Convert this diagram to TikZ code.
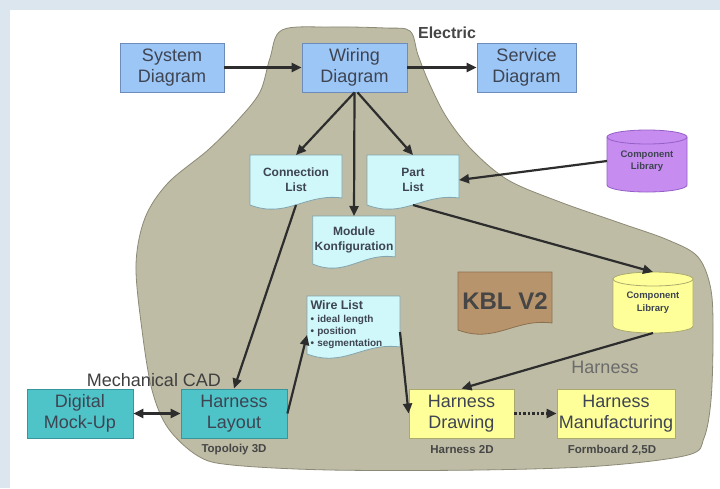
\documentclass[tikz,border=0pt]{standalone}
\usepackage{fontspec}
\setmainfont{Liberation Sans}
\usepackage{tikz}
\usetikzlibrary{arrows.meta,positioning,calc,backgrounds}
\definecolor{framebg}{RGB}{220,230,238}
\definecolor{blobfill}{RGB}{190,188,165}
\definecolor{blobedge}{RGB}{140,138,118}
\definecolor{bluebox}{RGB}{156,198,245}
\definecolor{blueedge}{RGB}{110,140,185}
\definecolor{tealbox}{RGB}{78,196,200}
\definecolor{tealedge}{RGB}{55,150,155}
\definecolor{yelbox}{RGB}{255,255,153}
\definecolor{yeledge}{RGB}{170,170,110}
\definecolor{docfill}{RGB}{208,248,250}
\definecolor{docedge}{RGB}{130,165,175}
\definecolor{kblfill}{RGB}{184,148,108}
\definecolor{kbledge}{RGB}{140,112,80}
\definecolor{purpfill}{RGB}{198,140,240}
\definecolor{purpedge}{RGB}{150,95,200}
\definecolor{boxtext}{RGB}{62,68,82}
\definecolor{arrowgray}{RGB}{45,45,45}
\definecolor{labelgray}{RGB}{70,70,70}

\begin{document}
\begin{tikzpicture}[x=1pt, y=1pt,
  >={Triangle[length=10pt,width=9pt]},
  box/.style={rectangle, draw=#1, line width=0.8, minimum height=49, inner sep=2,
    text=boxtext, align=center, font=\fontsize{18}{21}\selectfont},
  doc/.style={rectangle, outer sep=0, inner sep=2, text=boxtext, align=center,
    font=\bfseries\fontsize{12}{15}\selectfont},
  cyl/.style={rectangle, outer sep=0, minimum width=80, inner sep=1, text=boxtext,
    align=center, font=\bfseries\fontsize{9.5}{12.5}\selectfont},
  flow/.style={->, line width=2.2, draw=arrowgray},
  small/.style={text=labelgray, font=\bfseries\fontsize{11.5}{13}\selectfont}]
\useasboundingbox (0,0) rectangle (720,-488);
% frame and the electric area
\begin{scope}[on background layer]
\fill[framebg] (0,0) rectangle (720,-488);
\fill[white] (10,-10) rectangle (720,-488);
\draw[blobedge, fill=blobfill, line width=0.8] plot[smooth cycle, tension=0.55] coordinates {
  (282,-30) (330,-27) (385,-28) (410,-31) (418,-55) (430,-85) (447,-118) (472,-150)
  (508,-180) (560,-202) (620,-223) (668,-240) (698,-257) (711,-290) (713,-340)
  (711,-400) (704,-438) (688,-455) (600,-466) (480,-470) (330,-470) (232,-465)
  (198,-456) (168,-428) (152,-390) (142,-330) (136,-265) (145,-218) (168,-183)
  (208,-150) (238,-120) (260,-92) (270,-58)};
\end{scope}
% top row
\node[box=blueedge, fill=bluebox, minimum width=104] (sysd) at (172,-67.5) {System\\Diagram};
\node[box=blueedge, fill=bluebox, minimum width=105] (wired) at (354.5,-67.5) {Wiring\\Diagram};
\node[box=blueedge, fill=bluebox, minimum width=99] (served) at (526.5,-67.5) {Service\\Diagram};
\node[font=\bfseries\fontsize{16}{18}\selectfont, text=labelgray] (elec) at (447,-33) {Electric};
% lists
\node[doc, minimum width=92, minimum height=50] (conn) at (296,-180) {Connection\\List};
\node[doc, minimum width=92, minimum height=50] (part) at (413,-180) {Part\\List};
\node[doc, minimum width=82, minimum height=48] (modk) at (354,-240) {Module\\Konfiguration};
\node[doc, minimum width=93, minimum height=58, text width=86, align=left,
  font=\bfseries\fontsize{10}{12}\selectfont] (wire) at (353.5,-325)
  {{\fontsize{12.5}{14}\selectfont Wire List}\\[1pt]
   \textbullet\ ideal length\\ \textbullet\ position\\ \textbullet\ segmentation};
\node[doc, minimum width=94, minimum height=58, text=labelgray,
  font=\bfseries\fontsize{24}{26}\selectfont] (kbl) at (505,-301) {KBL V2};
% libraries
\node[cyl, minimum height=48] (complibE) at (647,-161) {Component\\Library};
\node[cyl, minimum height=47] (complibH) at (653,-302.5) {Component\\Library};
% bottom row
\node[box=tealedge, fill=tealbox, minimum width=106] (dmu) at (80,-413.5) {Digital\\Mock-Up};
\node[box=tealedge, fill=tealbox, minimum width=106] (hlay) at (234,-413.5) {Harness\\Layout};
\node[box=yeledge, fill=yelbox, minimum width=105] (hdraw) at (461.5,-413.5) {Harness\\Drawing};
\node[box=yeledge, fill=yelbox, minimum width=118] (hmanu) at (616,-413.5) {Harness\\Manufacturing};
\node[font=\fontsize{18}{20}\selectfont, text=labelgray!90!black] (mcad) at (154,-380) {Mechanical CAD};
\node[font=\fontsize{18}{20}\selectfont, text=labelgray!80] (harn) at (605,-367) {Harness};
\node[small] (topo) at (234,-450) {Topoloiy 3D};
\node[small] (h2d) at (462,-450) {Harness 2D};
\node[small] (fb) at (612,-450) {Formboard 2,5D};
% document and cylinder outlines
\begin{scope}[on background layer]
\foreach \n/\f/\e in {conn/docfill/docedge, part/docfill/docedge, modk/docfill/docedge,
  wire/docfill/docedge, kbl/kblfill/kbledge}
  \draw[\e, fill=\f, line width=0.8] (\n.north west) -- (\n.south west)
    .. controls ($(\n.south west)!0.4!(\n.south east)+(0,-14)$)
    and ($(\n.south west)!0.6!(\n.south east)+(0,12)$) .. ([yshift=7]\n.south east)
    -- (\n.north east) -- cycle;
\foreach \n/\f/\e in {complibE/purpfill/purpedge, complibH/yelbox/yeledge} {
  \fill[\f] (\n.north west) -- (\n.south west)
    arc[start angle=180, end angle=360, x radius=40pt, y radius=7pt] -- (\n.north east) -- cycle;
  \draw[\e, line width=0.8] (\n.north west) -- (\n.south west)
    arc[start angle=180, end angle=360, x radius=40pt, y radius=7pt] -- (\n.north east);
  \draw[\e, fill=\f, line width=0.8] (\n.north) ellipse[x radius=40pt, y radius=7pt];
}
\end{scope}
% connectors
\draw[flow] (sysd) -- (wired);
\draw[flow] (wired) -- (served);
\draw[flow] (wired.south) -- (conn.north);
\draw[flow] (wired.south) -- (modk.north);
\draw[flow] ([xshift=3]wired.south) -- (part.north);
\draw[flow] (complibE.west) -- (part.east);
\draw[flow] (part.south) -- ([yshift=7]complibH.north);
\draw[flow] (conn.south) -- (hlay.north);
\draw[flow] (hlay.east) -- ([yshift=-10]wire.west);
\draw[flow] ([yshift=-7]wire.east) -- (hdraw.west);
\draw[flow] ([yshift=-7]complibH.south) -- (hdraw.north);
\draw[flow, dash pattern=on 2.5pt off 2pt] (hdraw) -- (hmanu);
\draw[flow, <->] (dmu) -- (hlay);
\end{tikzpicture}
\end{document}
